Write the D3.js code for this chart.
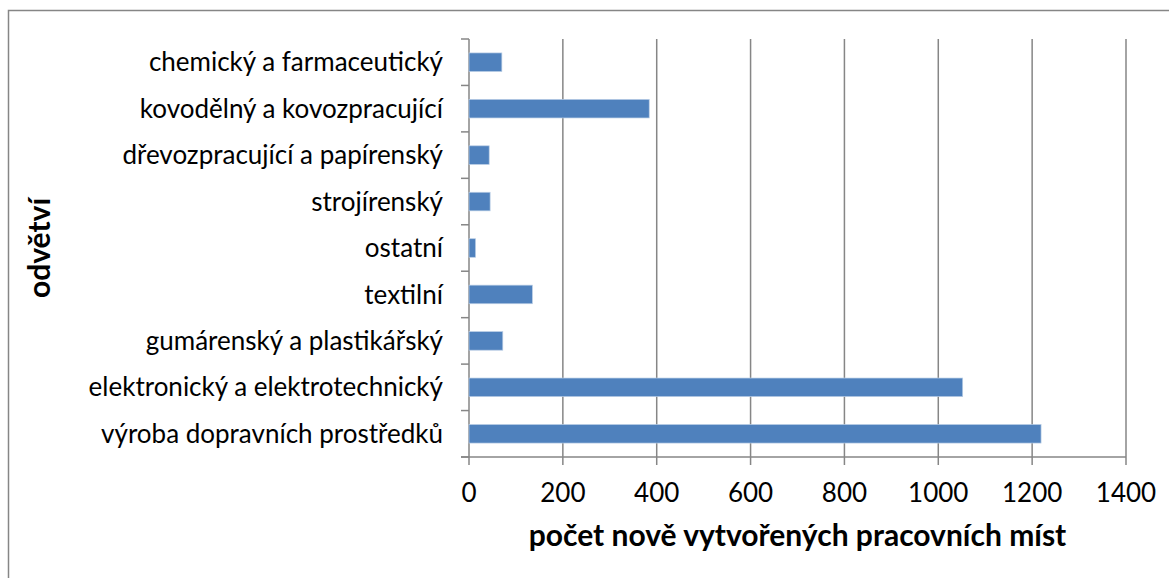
<!DOCTYPE html>
<html><head><meta charset="utf-8">
<script src="https://cdn.jsdelivr.net/npm/d3@7"></script>
<style>body{margin:0;background:#fff;}svg{display:block;}</style>
</head><body>
<script>
const categories = ["výroba dopravních prostředků","elektronický a elektrotechnický","gumárenský a plastikářský","textilní","ostatní","strojírenský","dřevozpracující a papírenský","kovodělný a kovozpracující","chemický a farmaceutický"];
const values = [1219, 1052, 72, 135, 14, 45, 43, 384, 70];
const xTicks = [0,200,400,600,800,1000,1200,1400];
const xTitle = "počet nově vytvořených pracovních míst";
const yTitle = "odvětví";

(function(){
const W = 1169, H = 578;
const svg = d3.select("body").append("svg").attr("width", W).attr("height", H);
svg.append("rect").attr("x",8.5).attr("y",10.5).attr("width",1300).attr("height",700)
  .attr("fill","#fff").attr("stroke","#868686").attr("stroke-width",1.5);

const pL = 469, pR = 1126, pT = 39, pB = 457;
const x = d3.scaleLinear().domain([0,1400]).range([pL,pR]);
const y = d3.scaleBand().domain(categories.slice().reverse()).range([pT,pB]).paddingInner(0.6).paddingOuter(0.3);
const yb = d3.scaleBand().domain(categories.slice().reverse()).range([pT,pB]);

const font = "Lato, 'Open Sans', sans-serif";
svg.append("g").selectAll("line").data(xTicks.slice(1)).join("line")
  .attr("x1",d=>x(d)).attr("x2",d=>x(d)).attr("y1",pT).attr("y2",pB+8)
  .attr("stroke","#868686").attr("stroke-width",1.5);
svg.append("line").attr("x1",pL-8).attr("x2",pR).attr("y1",pB).attr("y2",pB)
  .attr("stroke","#868686").attr("stroke-width",1.5);
svg.append("line").attr("x1",pL).attr("x2",pL).attr("y1",pT).attr("y2",pB+8)
  .attr("stroke","#868686").attr("stroke-width",1.5);
const yTickPos = categories.map((c)=>yb(c)).concat([pB]);
svg.append("g").selectAll("line").data(yTickPos).join("line")
  .attr("x1",pL-8).attr("x2",pL).attr("y1",d=>d).attr("y2",d=>d)
  .attr("stroke","#868686").attr("stroke-width",1.5);

svg.append("g").selectAll("rect").data(categories).join("rect")
  .attr("x",x(0)).attr("y",c=>y(c)).attr("width",(c,i)=>x(values[i])-x(0)).attr("height",y.bandwidth())
  .attr("fill","#4f81bd").attr("stroke","#b9cde5").attr("stroke-width",0.7);

svg.append("g").selectAll("text").data(categories).join("text")
  .attr("x",pL-26).attr("y",c=>yb(c)+yb.bandwidth()/2).attr("dy","0.35em")
  .attr("text-anchor","end").attr("font-family",font).attr("font-size",26).attr("fill","#000")
  .text(c=>c);
svg.append("g").selectAll("text").data(xTicks).join("text")
  .attr("x",d=>x(d)).attr("y",493).attr("dy","0.35em").attr("text-anchor","middle")
  .attr("font-family",font).attr("font-size",26).attr("fill","#000").text(d=>d);
svg.append("text").attr("x",(pL+pR)/2).attr("y",535).attr("dy","0.35em").attr("text-anchor","middle")
  .attr("font-family",font).attr("font-weight","bold").attr("font-size",30).text(xTitle);
svg.append("text").attr("transform",`translate(39,${(pT+pB)/2}) rotate(-90)`).attr("dy","0.35em")
  .attr("text-anchor","middle").attr("font-family",font).attr("font-weight","bold").attr("font-size",30).text(yTitle);
})();
</script>
</body></html>
